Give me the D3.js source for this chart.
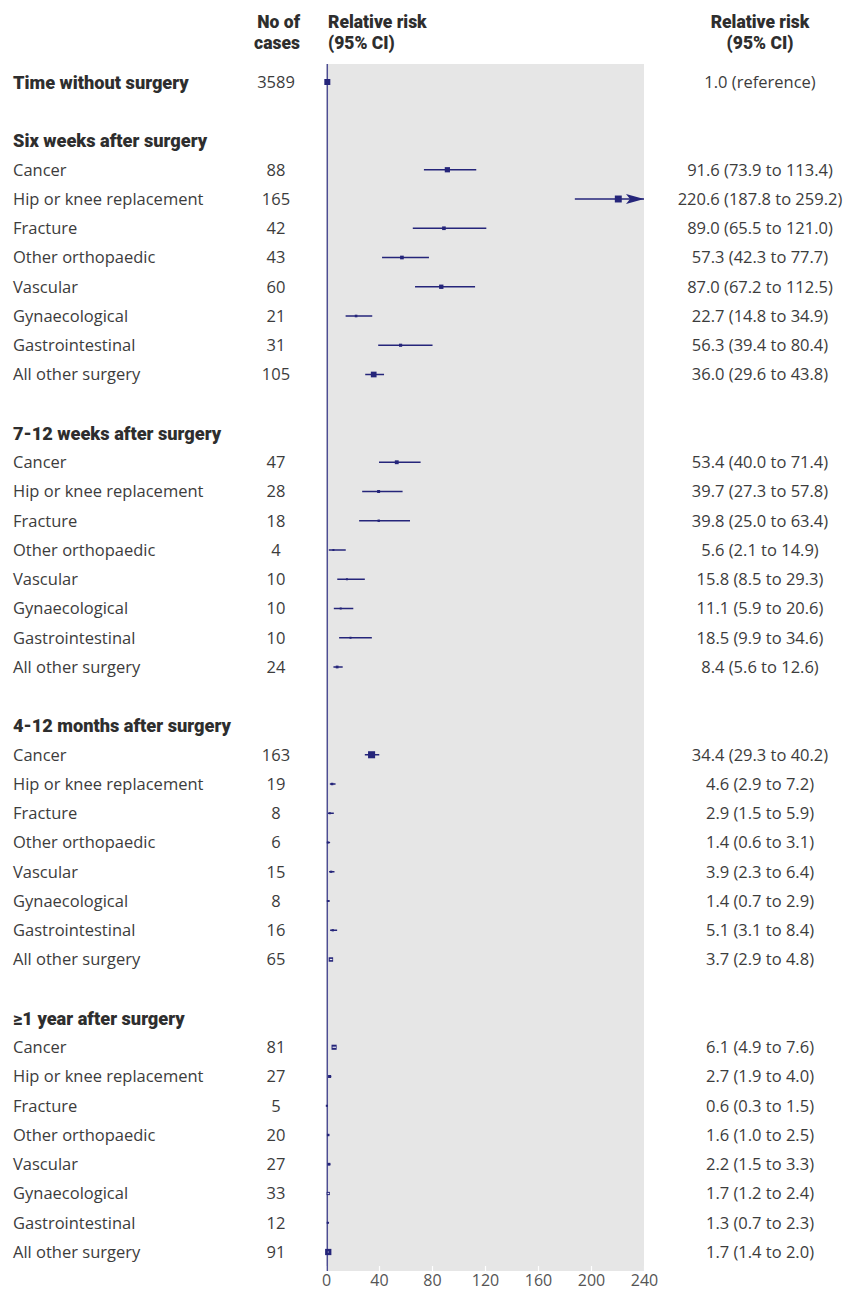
<!DOCTYPE html>
<html>
<head>
<meta charset="utf-8">
<script src="https://cdn.jsdelivr.net/npm/d3@7"></script>
<style>
  html, body { margin: 0; padding: 0; background: #fff; }
  svg { display: block; }
  text { font-family: "Open Sans", "Noto Sans", sans-serif; fill: #3c3c3c; }
  .bold { font-family: "Roboto", "Lato", sans-serif; font-weight: 900; fill: #2e2e2e; }
</style>
</head>
<body>
<svg id="chart" width="851" height="1290"></svg>
<script>
// Relative risk of first venous thromboembolism by time since surgery and type of surgery
const referenceLabel = "Time without surgery";
const referenceCases = 3589;
const referenceRR = 1.0;

const periods = [
  "Six weeks after surgery",
  "7-12 weeks after surgery",
  "4-12 months after surgery",
  "≥1 year after surgery"
];
const surgeryTypes = [
  "Cancer", "Hip or knee replacement", "Fracture", "Other orthopaedic",
  "Vascular", "Gynaecological", "Gastrointestinal", "All other surgery"
];

// one array per period, in the order of surgeryTypes
const cases = [
  [88, 165, 42, 43, 60, 21, 31, 105],
  [47, 28, 18, 4, 10, 10, 10, 24],
  [163, 19, 8, 6, 15, 8, 16, 65],
  [81, 27, 5, 20, 27, 33, 12, 91]
];
const rr = [
  [91.6, 220.6, 89.0, 57.3, 87.0, 22.7, 56.3, 36.0],
  [53.4, 39.7, 39.8, 5.6, 15.8, 11.1, 18.5, 8.4],
  [34.4, 4.6, 2.9, 1.4, 3.9, 1.4, 5.1, 3.7],
  [6.1, 2.7, 0.6, 1.6, 2.2, 1.7, 1.3, 1.7]
];
const ciLow = [
  [73.9, 187.8, 65.5, 42.3, 67.2, 14.8, 39.4, 29.6],
  [40.0, 27.3, 25.0, 2.1, 8.5, 5.9, 9.9, 5.6],
  [29.3, 2.9, 1.5, 0.6, 2.3, 0.7, 3.1, 2.9],
  [4.9, 1.9, 0.3, 1.0, 1.5, 1.2, 0.7, 1.4]
];
const ciHigh = [
  [113.4, 259.2, 121.0, 77.7, 112.5, 34.9, 80.4, 43.8],
  [71.4, 57.8, 63.4, 14.9, 29.3, 20.6, 34.6, 12.6],
  [40.2, 7.2, 5.9, 3.1, 6.4, 2.9, 8.4, 4.8],
  [7.6, 4.0, 1.5, 2.5, 3.3, 2.4, 2.3, 2.0]
];
const xTicks = [0, 40, 80, 120, 160, 200, 240];

// ---- build row list: reference, blank, then per period a header + 8 rows + blank
const rows = [];
rows.push({ label: referenceLabel, bold: true, n: referenceCases, rr: referenceRR, ref: true });
rows.push({ blank: true });
periods.forEach((p, i) => {
  rows.push({ label: p, bold: true, header: true });
  surgeryTypes.forEach((s, j) => {
    rows.push({ label: s, n: cases[i][j], rr: rr[i][j], lo: ciLow[i][j], hi: ciHigh[i][j] });
  });
  if (i < periods.length - 1) rows.push({ blank: true });
});

const svg = d3.select("#chart");
const plotLeft = 326, plotRight = 644, plotTop = 64, plotBottom = 1271;

const x = d3.scaleLinear().domain([0, 240]).range([plotLeft, plotRight]);
const y = d3.scalePoint().domain(d3.range(rows.length)).range([82, 1252]);

const navy = "#25257a";

// shaded plot panel
svg.append("rect")
  .attr("x", plotLeft).attr("y", plotTop)
  .attr("width", plotRight - plotLeft).attr("height", plotBottom - plotTop)
  .attr("fill", "#e6e6e6");

// x axis: white ticks inside panel, labels below
const axis = d3.axisBottom(x).tickValues(xTicks).tickSize(0).tickPadding(0);
const gAxis = svg.append("g").attr("transform", `translate(0,${plotBottom})`).call(axis);
gAxis.select(".domain").remove();
gAxis.selectAll(".tick").append("line")
  .attr("y1", -5).attr("y2", 0).attr("stroke", "#fff").attr("stroke-width", 1.2);
gAxis.selectAll(".tick text")
  .attr("y", 14.5).attr("dy", "0")
  .style("font-family", '"Open Sans", sans-serif')
  .style("font-size", "16px").style("fill", "#555");

// line of no effect at RR = 1
svg.append("line")
  .attr("x1", x(1)).attr("x2", x(1))
  .attr("y1", plotTop).attr("y2", plotBottom)
  .attr("stroke", "#4d4d95").attr("stroke-width", 1.4);

// box size from inverse variance weight of log RR
function boxSize(d) {
  if (d.ref) return 6;
  const se = (Math.log(d.hi) - Math.log(d.lo)) / (2 * 1.96);
  const w = 1 / (se * se);
  return Math.max(2, 0.57 * Math.sqrt(w));
}

const dataRows = rows.map((d, i) => Object.assign({ i }, d)).filter(d => !d.blank);
const estRows = dataRows.filter(d => d.rr !== undefined);
const gMarks = svg.append("g");

estRows.forEach(d => {
  const cy = y(d.i);
  const s = boxSize(d);
  const cx = x(d.rr);
  if (!d.ref) {
    const x0 = x(d.lo);
    const x1 = Math.min(x(d.hi), plotRight);
    gMarks.append("line")
      .attr("x1", x0).attr("x2", x1).attr("y1", cy).attr("y2", cy)
      .attr("stroke", navy).attr("stroke-width", 1.5);
    if (x(d.hi) > plotRight) {
      // arrow for interval running past the axis
      gMarks.append("path")
        .attr("d", `M${plotRight},${cy} L${plotRight - 18},${cy - 5} L${plotRight - 14},${cy} L${plotRight - 18},${cy + 5} Z`)
        .attr("fill", navy);
    }
  }
  gMarks.append("rect")
    .attr("x", cx - s / 2).attr("y", cy - s / 2)
    .attr("width", s).attr("height", s)
    .attr("fill", navy);
  const pad = 0.3;
  if (!d.ref && x(d.lo) > cx - s / 2 + pad && x(d.hi) < cx + s / 2 - pad) {
    // interval narrower than the box: show it inside in a light tone
    gMarks.append("line")
      .attr("x1", x(d.lo)).attr("x2", x(d.hi)).attr("y1", cy).attr("y2", cy)
      .attr("stroke", "#e8e8f2").attr("stroke-width", 1.2);
  }
});

// left labels
svg.append("g").selectAll("text").data(dataRows).join("text")
  .attr("class", d => d.bold ? "bold" : null)
  .attr("x", 13).attr("y", d => y(d.i)).attr("dy", "0.36em")
  .style("font-size", d => d.bold ? "18.2px" : "16.5px")
  .text(d => d.label);

// number of cases
svg.append("g").selectAll("text").data(dataRows.filter(d => d.n !== undefined)).join("text")
  .attr("x", 276).attr("y", d => y(d.i)).attr("dy", "0.36em")
  .attr("text-anchor", "middle")
  .style("font-size", "16.5px")
  .text(d => d.n);

// relative risk text
svg.append("g").selectAll("text").data(estRows).join("text")
  .attr("x", 760).attr("y", d => y(d.i)).attr("dy", "0.36em")
  .attr("text-anchor", "middle")
  .style("font-size", "16.5px")
  .text(d => d.ref ? `${d.rr.toFixed(1)} (reference)` :
    `${d.rr.toFixed(1)} (${d.lo.toFixed(1)} to ${d.hi.toFixed(1)})`);

// column headers
const hdr = svg.append("g");
[["No of", 22], ["cases", 43]].forEach(([t, yy]) =>
  hdr.append("text").attr("class", "bold").attr("x", 300).attr("y", yy).attr("dy", "0.36em")
    .attr("text-anchor", "end").style("font-size", "17.5px").text(t));
[["Relative risk", 22], ["(95% CI)", 43]].forEach(([t, yy]) => {
  hdr.append("text").attr("class", "bold").attr("x", 328).attr("y", yy).attr("dy", "0.36em")
    .style("font-size", "17.5px").text(t);
  hdr.append("text").attr("class", "bold").attr("x", 760).attr("y", yy).attr("dy", "0.36em")
    .attr("text-anchor", "middle").style("font-size", "17.5px").text(t);
});
</script>
</body>
</html>
